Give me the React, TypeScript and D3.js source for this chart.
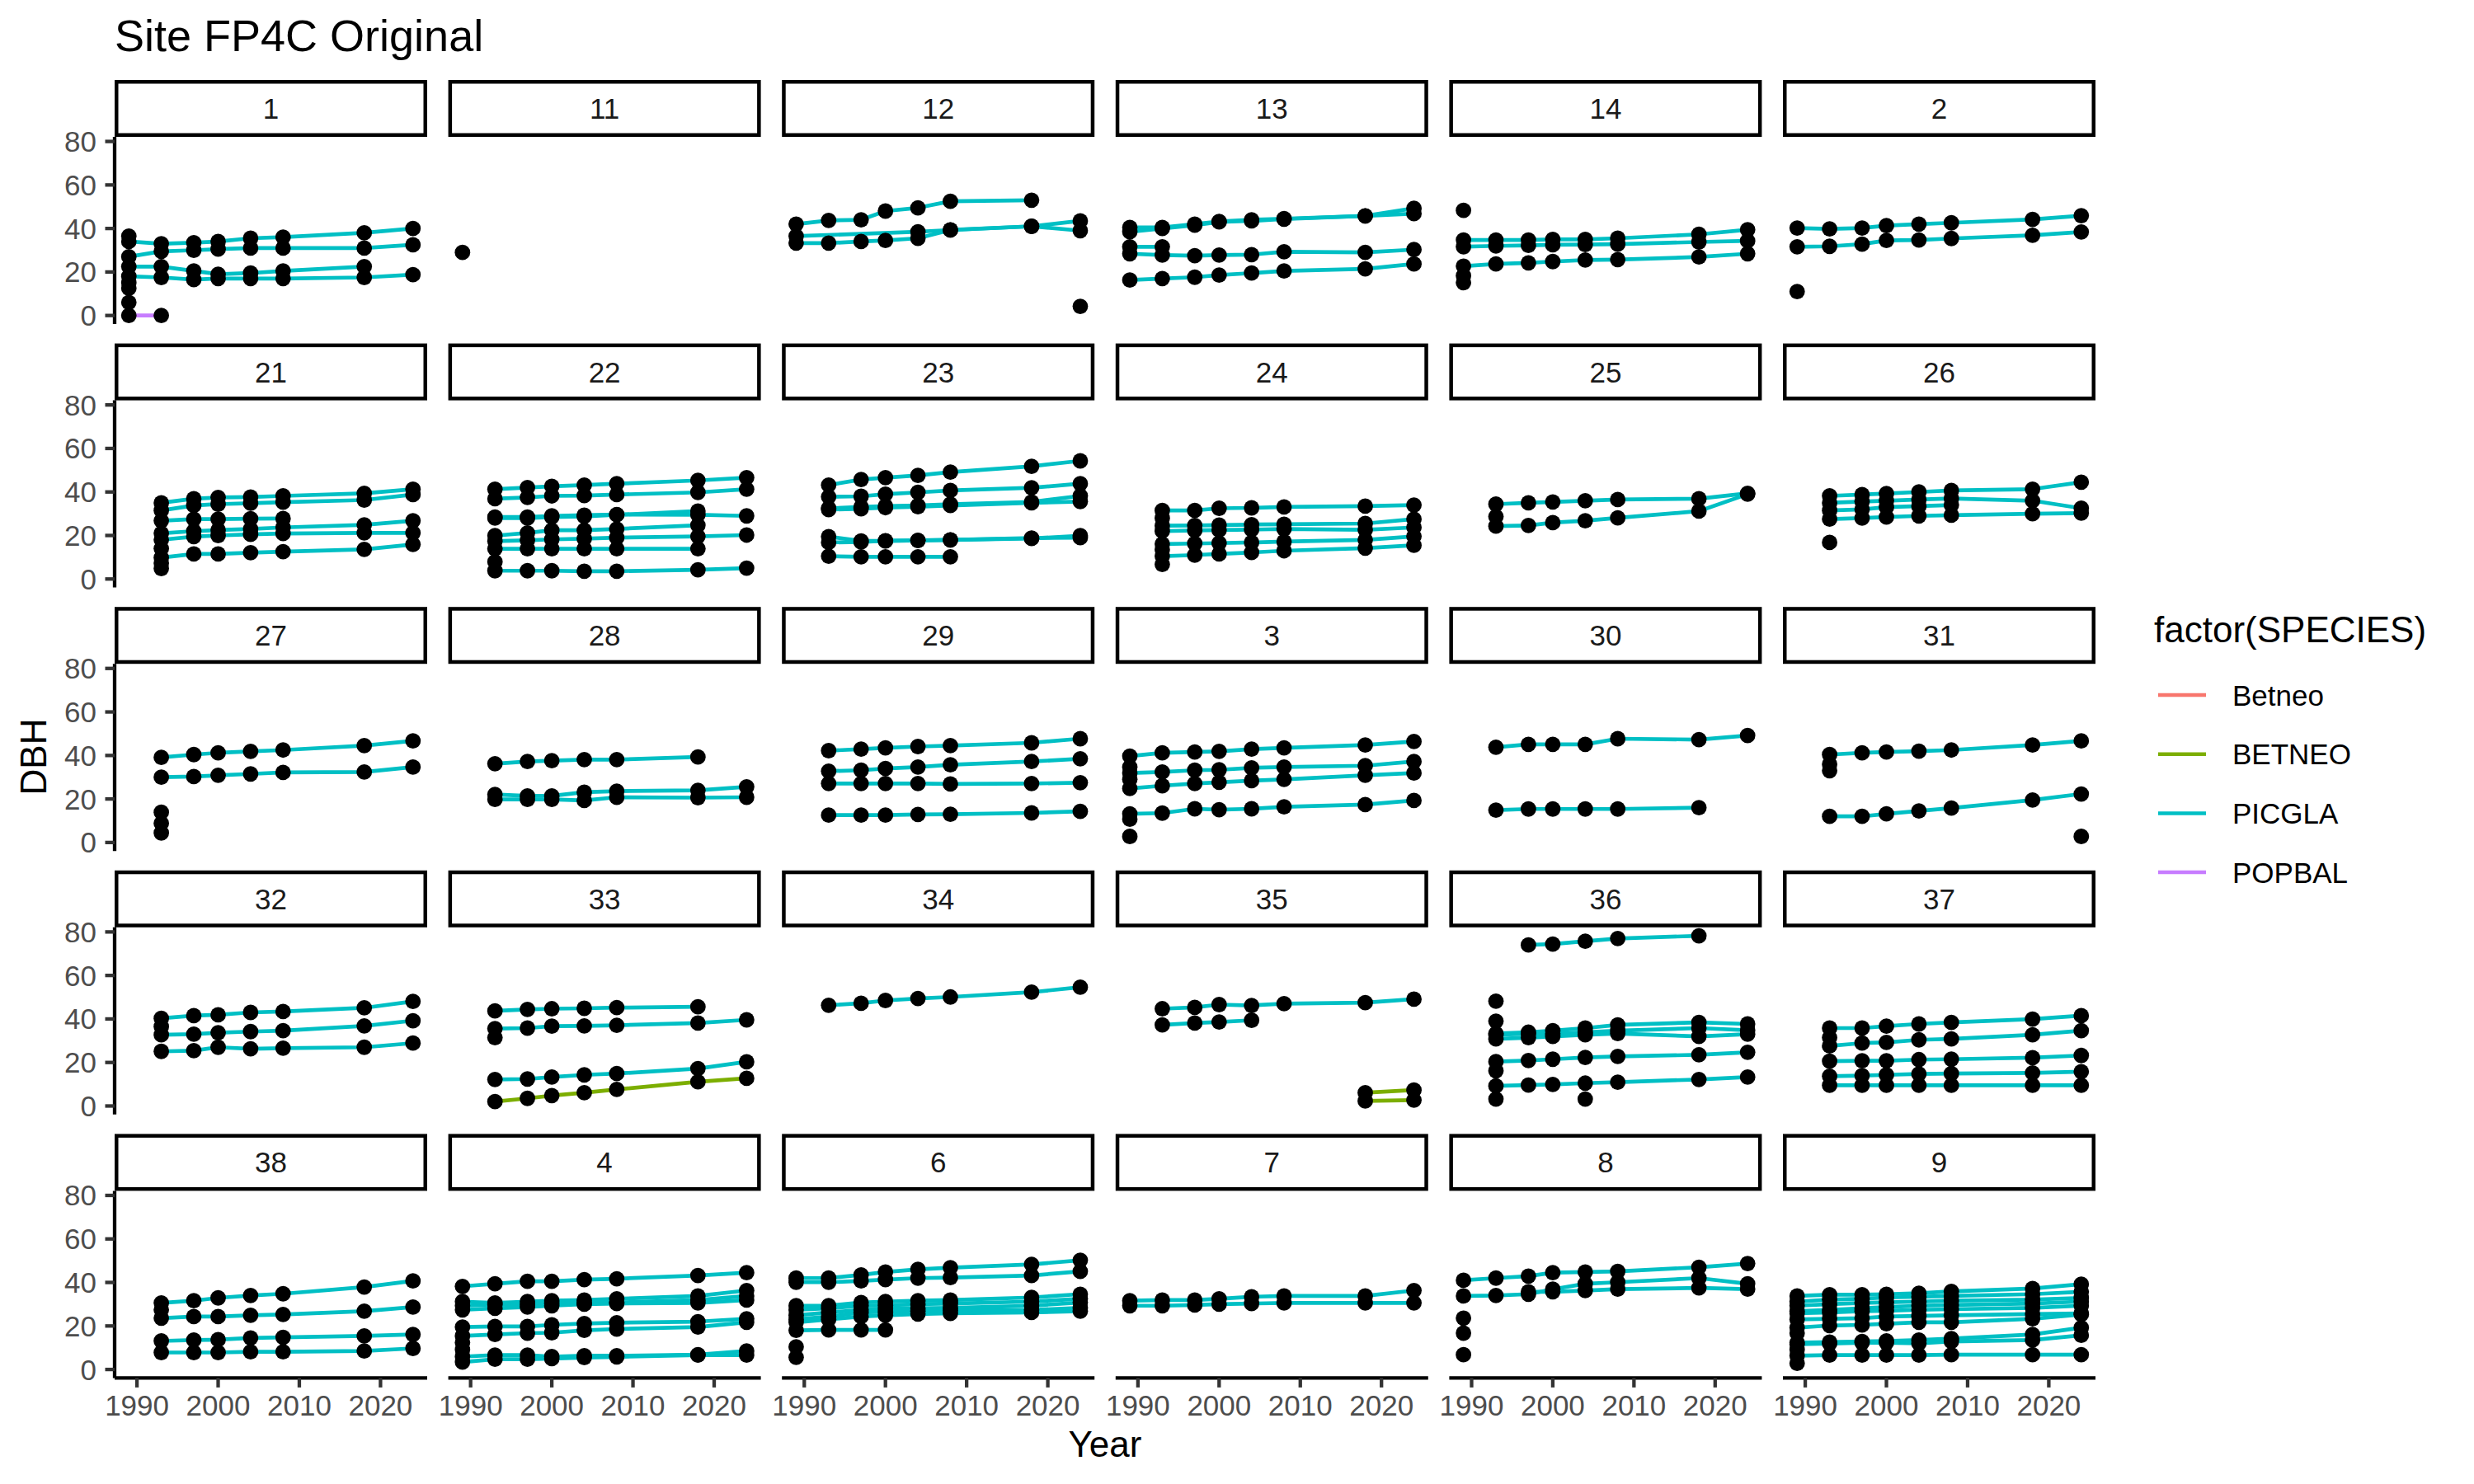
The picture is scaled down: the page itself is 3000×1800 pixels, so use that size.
import * as d3 from "d3";

// DBH per tree, one column per measurement year; null = not measured
const _ = null;
type Row = (string | number | null)[];

const years = [1989, 1993, 1997, 2000, 2004, 2008, 2018, 2024];

const plot1: Row[] = [
  ["PICGLA", 34, 33, 33.5, 34, 35.5, 36, 38, 40],
  ["PICGLA", 27, 29.5, 30, 30.5, 31, 31, 31, 32.5],
  ["PICGLA", 22.5, 22.5, 20.5, 19, 19.5, 20.5, 22.5, _],
  ["PICGLA", 18, 17.5, 16.5, 17, 17, 17, 17.5, 18.8],
  ["PICGLA", 36.5, _, _, _, _, _, _, _],
  ["PICGLA", 15, _, _, _, _, _, _, _],
  ["PICGLA", 12.5, _, _, _, _, _, _, _],
  ["PICGLA", 6, _, _, _, _, _, _, _],
  ["POPBAL", 0, 0, _, _, _, _, _, _],
];
const plot11: Row[] = [["PICGLA", 29, _, _, _, _, _, _, _]];
const plot12: Row[] = [
  ["PICGLA", 42, 43.7, 44, 48, 49.5, 52.5, 53, _],
  ["PICGLA", 36.5, _, _, _, 38.5, 39.3, 41, 43.5],
  ["PICGLA", 33.3, 33.3, 34, 34.5, 35.5, 39.3, 41, 39],
  ["PICGLA", _, _, _, _, _, _, _, 4.2],
];
const plot13: Row[] = [
  ["PICGLA", 40.5, 40.5, 42, 43.2, 44, 44.5, 45.8, 49.3],
  ["PICGLA", 38.5, 40, 41.5, 43, 43.5, 44.3, 45.8, 46.8],
  ["PICGLA", 31.6, 31.6, _, _, _, _, _, _],
  ["PICGLA", 28.4, 27.8, 27.5, 27.8, 28, 29.3, 29, 30.3],
  ["PICGLA", 16.3, 17, 17.6, 18.6, 19.5, 20.5, 21.4, 23.7],
];
const plot14: Row[] = [
  ["PICGLA", 48.3, _, _, _, _, _, _, _],
  ["PICGLA", 34.7, 34.7, 34.7, 35, 35, 35.5, 37.3, 39.4],
  ["PICGLA", 31.6, 32, 32.2, 32.5, 32.6, 32.8, 33.8, 34.3],
  ["PICGLA", 22.7, 23.7, 24.2, 24.8, 25.5, 25.7, 26.9, 28.4],
  ["PICGLA", 18.3, _, _, _, _, _, _, _],
  ["PICGLA", 15.1, _, _, _, _, _, _, _],
];
const plot2: Row[] = [
  ["PICGLA", 40.2, 39.8, 40.2, 41.3, 42, 42.6, 44.2, 45.9],
  ["PICGLA", 31.6, 31.8, 32.8, 34.5, 34.7, 35.4, 36.9, 38.4],
  ["PICGLA", 11, _, _, _, _, _, _, _],
];
const plot21: Row[] = [
  ["PICGLA", _, 35, 36.9, 37.5, 37.7, 38.2, 39.4, 41.3],
  ["PICGLA", _, 31.5, 33.8, 34.4, 34.8, 35.3, 36.3, 38.8],
  ["PICGLA", _, 26.8, 27.5, 27.5, 27.7, 27.8, _, _],
  ["PICGLA", _, 21, 22, 22.5, 23, 23.7, 24.9, 26.8],
  ["PICGLA", _, 18, 19.5, 20, 20.5, 20.9, 21.2, 21.2],
  ["PICGLA", _, 9.8, 11.5, 11.5, 12.1, 12.6, 13.6, 15.9],
  ["PICGLA", _, 14, _, _, _, _, _, _],
  ["PICGLA", _, 7.3, _, _, _, _, _, _],
  ["PICGLA", _, 4.8, _, _, _, _, _, _],
];
const plot22: Row[] = [
  ["PICGLA", _, 41.3, 42, 42.6, 43.2, 43.8, 45.3, 46.6],
  ["PICGLA", _, 36.9, 37.5, 38.2, 38.3, 38.8, 39.8, 41.3],
  ["PICGLA", _, 28.5, 28.5, 29, 29.3, 29.6, 29.5, 29],
  ["PICGLA", _, 28, 28, 28.5, 28.8, 29.5, 31.2, _],
  ["PICGLA", _, 19.9, 21.2, 22.4, 22.4, 23, 24.7, _],
  ["PICGLA", _, 17.4, 17.8, 18.2, 18.5, 19, 19.6, 20.2],
  ["PICGLA", _, 13.9, 13.9, 13.9, 13.9, 13.9, 13.9, _],
  ["PICGLA", _, 3.8, 3.8, 3.8, 3.6, 3.6, 4.2, 5],
  ["PICGLA", _, 7.9, _, _, _, _, _, _],
];
const plot23: Row[] = [
  ["PICGLA", _, 43.2, 45.7, 46.6, 47.6, 49.1, 51.8, 54.3],
  ["PICGLA", _, 37.8, 38, 39, 39.8, 40.7, 41.9, 43.8],
  ["PICGLA", _, 32.5, 33.1, 33.5, 33.8, 34.4, 35.4, 38.2],
  ["PICGLA", _, 31.9, 32.3, 32.8, 33.2, 33.8, 35, 35.6],
  ["PICGLA", _, 16.8, 17, 17.6, 17.7, 18, 18.6, 19.9],
  ["PICGLA", _, 19.5, 17.5, 17.5, 17.8, 18, 18.8, 19],
  ["PICGLA", _, 10.5, 10.2, 10.2, 10.2, 10.2, _, _],
];
const plot24: Row[] = [
  ["PICGLA", _, 31.5, 31.5, 32.5, 32.7, 33.1, 33.5, 34],
  ["PICGLA", _, 24.5, 24.6, 24.8, 25, 25.2, 25.5, 27.5],
  ["PICGLA", _, 22, 22.3, 22.5, 22.7, 23, 22.6, 23.7],
  ["PICGLA", _, 16.1, 16.3, 16.5, 16.8, 17.2, 18, 19.6],
  ["PICGLA", _, 10.5, 11, 11.5, 12.2, 13, 14.2, 15.5],
  ["PICGLA", _, 28, _, _, _, _, _, _],
  ["PICGLA", _, 13.5, _, _, _, _, _, _],
  ["PICGLA", _, 6.7, _, _, _, _, _, _],
];
const plot25: Row[] = [
  ["PICGLA", _, 34.4, 35, 35.4, 36, 36.5, 36.9, 39.4],
  ["PICGLA", _, 24.3, 24.6, 25.9, 26.8, 28.1, 31.2, 39],
  ["PICGLA", _, 28.7, _, _, _, _, _, _],
];
const plot26: Row[] = [
  ["PICGLA", _, 38.2, 38.8, 39.3, 40, 40.7, 41.3, 44.5],
  ["PICGLA", _, 35, 35.6, 36, 36.5, 37, 36, 32.5],
  ["PICGLA", _, 31.5, 32, 33, 33.5, 34, _, _],
  ["PICGLA", _, 27.5, 28, 28.5, 29, 29.3, 30, 30.3],
  ["PICGLA", _, 16.8, _, _, _, _, _, _],
];
const plot27: Row[] = [
  ["PICGLA", _, 39.1, 40.4, 41.2, 41.9, 42.5, 44.5, 46.7],
  ["PICGLA", _, 30, 30.3, 30.9, 31.5, 32.2, 32.4, 34.7],
  ["PICGLA", _, 13.9, _, _, _, _, _, _],
  ["PICGLA", _, 8.8, _, _, _, _, _, _],
  ["PICGLA", _, 4.4, _, _, _, _, _, _],
];
const plot28: Row[] = [
  ["PICGLA", _, 36.2, 37.2, 37.6, 38.1, 38.1, 39.3, _],
  ["PICGLA", _, 22.1, 21.4, 21.4, 23.1, 23.6, 24, 25.6],
  ["PICGLA", _, 19.8, 19.8, 19.8, 19.3, 20.8, 20.6, 20.8],
];
const plot29: Row[] = [
  ["PICGLA", _, 42.2, 42.9, 43.5, 44.1, 44.5, 45.8, 47.7],
  ["PICGLA", _, 32.8, 33.2, 34, 34.7, 35.7, 37.2, 38.5],
  ["PICGLA", _, 27.1, 27.1, 27.1, 27.1, 26.9, 27.1, 27.5],
  ["PICGLA", _, 12.6, 12.6, 12.6, 12.9, 13, 13.6, 14.3],
];
const plot3: Row[] = [
  ["PICGLA", 39.7, 41.2, 41.6, 41.9, 42.9, 43.5, 44.8, 46.4],
  ["PICGLA", 31.9, 32.4, 33.2, 33.4, 34.3, 34.7, 35.3, 37.2],
  ["PICGLA", 24.8, 26.1, 27.1, 27.7, 28.4, 29, 30.9, 31.9],
  ["PICGLA", 13.2, 13.5, 15.5, 15.1, 15.5, 16.4, 17.4, 19.3],
  ["PICGLA", 34.7, _, _, _, _, _, _, _],
  ["PICGLA", 29, _, _, _, _, _, _, _],
  ["PICGLA", 10.7, _, _, _, _, _, _, _],
  ["PICGLA", 2.8, _, _, _, _, _, _, _],
];
const plot30: Row[] = [
  ["PICGLA", _, 43.8, 45.1, 45.1, 45.1, 47.7, 47.3, 49.2],
  ["PICGLA", _, 14.9, 15.4, 15.4, 15.4, 15.4, 16, _],
];
const plot31: Row[] = [
  ["PICGLA", _, 40.4, 41.2, 41.6, 42, 42.5, 44.8, 46.7],
  ["PICGLA", _, 12, 12, 13.2, 14.5, 15.8, 19.5, 22.3],
  ["PICGLA", _, 36, _, _, _, _, _, _],
  ["PICGLA", _, 33, _, _, _, _, _, _],
  ["PICGLA", _, _, _, _, _, _, _, 2.8],
];
const plot32: Row[] = [
  ["PICGLA", _, 40.3, 41.5, 41.9, 43, 43.4, 45.1, 48.1],
  ["PICGLA", _, 32.7, 33, 33.7, 34.2, 34.6, 36.8, 39.2],
  ["PICGLA", _, 25.1, 25.4, 27, 26.3, 26.6, 27, 28.9],
  ["PICGLA", _, 36.5, _, _, _, _, _, _],
];
const plot33: Row[] = [
  ["PICGLA", _, 43.7, 44.4, 44.7, 44.9, 45.2, 45.6, _],
  ["PICGLA", _, 35.6, 35.8, 36.7, 36.8, 37.1, 38.1, 39.6],
  ["PICGLA", _, 31.4, _, _, _, _, _, _],
  ["PICGLA", _, 12.2, 12.4, 13.3, 14.3, 14.9, 17.2, 20.3],
  ["BETNEO", _, 2, 3.5, 4.8, 6.1, 7.6, 11.1, 12.7],
];
const plot34: Row[] = [
  ["PICGLA", _, 46.3, 47.2, 48.5, 49.4, 50.1, 52.3, 54.6],
];
const plot35: Row[] = [
  ["PICGLA", _, 44.7, 45.3, 46.6, 46.2, 47, 47.5, 49.1],
  ["PICGLA", _, 37.3, 38.1, 38.6, 39.4, _, _, _],
  ["BETNEO", _, _, _, _, _, _, 6.1, 7.3],
  ["BETNEO", _, _, _, _, _, _, 2.3, 2.7],
];
const plot36: Row[] = [
  ["PICGLA", _, _, 74, 74.4, 75.7, 77, 78.2, _],
  ["PICGLA", _, 48.2, _, _, _, _, _, _],
  ["PICGLA", _, 39, _, _, _, _, _, _],
  ["PICGLA", _, 33.3, 33.9, 34.6, 35.8, 37.3, 38.4, 37.7],
  ["PICGLA", _, 32.7, 33.2, 33.2, 33.9, 34.6, 35.8, 34.8],
  ["PICGLA", _, 30.8, 31.4, 32, 32.7, 33.3, 32, 33],
  ["PICGLA", _, 20.4, 20.9, 21.5, 22.3, 22.8, 23.5, 24.7],
  ["PICGLA", _, 16.2, _, _, _, _, _, _],
  ["PICGLA", _, 9.2, 9.6, 9.9, 10.5, 10.9, 12.2, 13.3],
  ["PICGLA", _, 3.2, _, _, _, _, _, _],
  ["PICGLA", _, _, _, _, 3.2, _, _, _],
];
const plot37: Row[] = [
  ["PICGLA", _, 35.8, 35.8, 36.7, 37.7, 38.4, 39.9, 41.5],
  ["PICGLA", _, 27.6, 28.9, 29.2, 30.4, 30.8, 32.7, 34.6],
  ["PICGLA", _, 31.4, _, _, _, _, _, _],
  ["PICGLA", _, 20.6, 20.8, 20.8, 21.3, 21.5, 22.2, 23.2],
  ["PICGLA", _, 13.7, 14, 14.3, 14.7, 14.9, 15.2, 15.8],
  ["PICGLA", _, 9.5, 9.5, 9.5, 9.5, 9.5, 9.5, 9.5],
];
const plot38: Row[] = [
  ["PICGLA", _, 30.6, 31.6, 32.9, 34, 34.8, 37.9, 40.7],
  ["PICGLA", _, 23.6, 24.3, 24.3, 24.9, 25.3, 26.8, 28.7],
  ["PICGLA", _, 27.4, _, _, _, _, _, _],
  ["PICGLA", _, 13.1, 13.5, 13.7, 14.5, 14.8, 15.4, 16.1],
  ["PICGLA", _, 7.8, 7.8, 7.8, 8.1, 8.1, 8.5, 9.7],
];
const plot4: Row[] = [
  ["PICGLA", 38.2, 39.4, 40.5, 40.5, 41.3, 41.7, 43.2, 44.5],
  ["PICGLA", 31.2, 30.6, 31.2, 31.6, 31.9, 32.5, 33.8, 36.3],
  ["PICGLA", 29.3, 29.8, 30, 30.3, 30.5, 30.8, 31.9, 33.8],
  ["PICGLA", 27.4, 28.1, 28.7, 29.3, 30, 30.3, 30.6, 31.9],
  ["PICGLA", 19.5, 19.8, 19.8, 20.5, 21.1, 21.5, 22, 23.3],
  ["PICGLA", 15.4, 16.1, 16.7, 16.9, 18, 18.6, 19.5, 21.7],
  ["PICGLA", 5.9, 6.6, 6.6, 5.9, 6.3, 6.3, 6.8, 8.5],
  ["PICGLA", 3.4, 4.7, 4.7, 5, 5.5, 5.8, 6.6, 6.6],
  ["PICGLA", 12.3, _, _, _, _, _, _, _],
  ["PICGLA", 9.1, _, _, _, _, _, _, _],
];
const plot6: Row[] = [
  ["PICGLA", 42, 42, 43.5, 44.8, 46, 46.8, 48.3, 50.2],
  ["PICGLA", 40.1, 40.1, 40.7, 41.3, 42, 42.2, 43.2, 45.1],
  ["PICGLA", 29.3, 29.3, 30.8, 31.2, 31.6, 31.9, 33.1, 34.6],
  ["PICGLA", 27.4, 28.1, 29.3, 29.5, 30, 30.3, 31.2, 32.5],
  ["PICGLA", 24.9, 26.2, 27.4, 28.1, 28.1, 28.3, 29.3, 30.8],
  ["PICGLA", 23, 24.3, 26.2, 26.5, 26.8, 27.1, 27.4, 28.3],
  ["PICGLA", 21.7, 23, 24.3, 24.9, 25.5, 25.8, 26.2, 26.8],
  ["PICGLA", 18, 18.2, 18.2, 18.2, _, _, _, _],
  ["PICGLA", 10.4, _, _, _, _, _, _, _],
  ["PICGLA", 5.6, _, _, _, _, _, _, _],
];
const plot7: Row[] = [
  ["PICGLA", 31.6, 31.9, 31.9, 32.5, 33.4, 33.8, 33.8, 36.3],
  ["PICGLA", 29.3, 29.3, 29.6, 30, 30.3, 30.6, 30.6, 30.6],
];
const plot8: Row[] = [
  ["PICGLA", 41, 42, 42.9, 44.5, 44.8, 45.1, 47, 48.7],
  ["PICGLA", 33.8, 34, 34.6, 36.9, 39.4, 40.1, 42, 39.4],
  ["PICGLA", _, _, 35.7, 35.7, 36.3, 36.9, 37.5, 36.9],
  ["PICGLA", 23.6, _, _, _, _, _, _, _],
  ["PICGLA", 16.7, _, _, _, _, _, _, _],
  ["PICGLA", 6.8, _, _, _, _, _, _, _],
];
const plot9: Row[] = [
  ["PICGLA", 33.8, 34.4, 34.4, 34.6, 35, 35.9, 37.2, 39.2],
  ["PICGLA", 31.2, 32.1, 32.5, 33.1, 33.4, 33.8, 34.6, 35.7],
  ["PICGLA", 29.3, 30, 30.6, 30.9, 31.2, 31.6, 32.1, 32.9],
  ["PICGLA", 26.8, 27.4, 28.1, 28.7, 29.3, 29.6, 30.3, 31.2],
  ["PICGLA", 25.8, 26.2, 26.8, 27, 27.4, 27.7, 28.3, 29.3],
  ["PICGLA", 23, 23.3, 23.6, 24.3, 24.6, 24.9, 25.5, 25.8],
  ["PICGLA", 19.2, 20.2, 20.5, 21, 21.7, 21.7, 23.3, 25.3],
  ["PICGLA", 12.3, 12.6, 12.9, 13.1, 13.5, 14.2, 16.1, 19.2],
  ["PICGLA", 11.6, 11.9, 12.3, 12.3, 12, 12.9, 13.5, 15.7],
  ["PICGLA", 6.3, 6.6, 6.6, 6.6, 6.6, 6.8, 6.8, 6.8],
  ["PICGLA", 16.7, _, _, _, _, _, _, _],
  ["PICGLA", 9.1, _, _, _, _, _, _, _],
  ["PICGLA", 2.8, _, _, _, _, _, _, _],
];

const panelIds = [
  "1", "11", "12", "13", "14", "2",
  "21", "22", "23", "24", "25", "26",
  "27", "28", "29", "3", "30", "31",
  "32", "33", "34", "35", "36", "37",
  "38", "4", "6", "7", "8", "9",
];
const panelTrees = [
  plot1, plot11, plot12, plot13, plot14, plot2,
  plot21, plot22, plot23, plot24, plot25, plot26,
  plot27, plot28, plot29, plot3, plot30, plot31,
  plot32, plot33, plot34, plot35, plot36, plot37,
  plot38, plot4, plot6, plot7, plot8, plot9,
];

const speciesNames = ["Betneo", "BETNEO", "PICGLA", "POPBAL"];
const speciesColors = ["#F8766D", "#7CAE00", "#00BFC4", "#C77CFF"];
const xTicks = [1990, 2000, 2010, 2020];
const yTicks = [0, 20, 40, 60, 80];

const FONT = "'Liberation Sans', Arial, Helvetica, sans-serif";

function toPoints(r: Row): [number, number][] {
  return years
    .map((yr, i) => [yr, r[i + 1]] as [number, number | null])
    .filter(d => d[1] !== null) as [number, number][];
}

export default function App() {
  const width = 3000;
  const height = 1800;
  const left = 139;
  const top = 97;
  const nCol = 6;
  const nRow = 5;
  const panelW = 379;
  const panelH = 227;
  const stripH = 69;
  const colStep = 404.6;
  const rowStep = 319.6;

  // ggplot-style 5% expansion of the data range
  const all = panelTrees.flat().flatMap(toPoints);
  const [x0, x1] = d3.extent(all, d => d[0]) as [number, number];
  const [y0, y1] = d3.extent(all, d => d[1]) as [number, number];
  const xPad = (x1 - x0) * 0.05;
  const yPad = (y1 - y0) * 0.05;

  const x = d3.scaleLinear().domain([x0 - xPad, x1 + xPad]).range([0, panelW]);
  const y = d3.scaleLinear().domain([y0 - yPad, y1 + yPad]).range([panelH, 0]);
  const color = d3.scaleOrdinal<string, string>().domain(speciesNames).range(speciesColors);
  const line = d3.line<[number, number]>().x(d => x(d[0])).y(d => y(d[1]));

  return (
    <svg
      width={width}
      height={height}
      style={{ position: "absolute", left: 0, top: 0, background: "#fff" }}
      fontFamily={FONT}
    >
      <rect width={width} height={height} fill="#fff" />
      <text x={left} y={62} fontSize={54} fill="#000">Site FP4C Original</text>

      {panelIds.map((id, p) => {
        const col = p % nCol;
        const row = Math.floor(p / nCol);
        const gx = left + col * colStep;
        const gy = top + row * rowStep;
        const trees = panelTrees[p].map(r => ({ sp: r[0] as string, pts: toPoints(r) }));
        return (
          <g key={id} transform={`translate(${gx},${gy})`}>
            <rect x={2.25} y={2.25} width={panelW - 4.5} height={stripH - 4.5}
              fill="#fff" stroke="#000" strokeWidth={4.5} />
            <text x={panelW / 2} y={stripH / 2} textAnchor="middle" dominantBaseline="central"
              fontSize={35} fill="#1A1A1A">{id}</text>
            <g transform={`translate(0,${stripH})`}>
              {trees.filter(t => t.pts.length > 1).map((t, i) => (
                <path key={`l${i}`} d={line(t.pts) || ""} fill="none" stroke={color(t.sp)}
                  strokeWidth={4.7} strokeLinejoin="round" />
              ))}
              {trees.flatMap((t, i) => t.pts.map((d, j) => (
                <circle key={`c${i}-${j}`} cx={x(d[0])} cy={y(d[1])} r={9.4} fill="#000" />
              )))}
              {col === 0 && (
                <g>
                  <line x1={0} x2={0} y1={0} y2={panelH} stroke="#000" strokeWidth={4.3} />
                  {yTicks.map(v => (
                    <g key={v} transform={`translate(0,${y(v)})`}>
                      <line x1={-11.5} x2={0} stroke="#333" strokeWidth={4.3} />
                      <text x={-22} textAnchor="end" dominantBaseline="central" fontSize={35}
                        fill="#4D4D4D">{v}</text>
                    </g>
                  ))}
                </g>
              )}
              {row === nRow - 1 && (
                <g transform={`translate(0,${panelH})`}>
                  <line x1={0} x2={panelW} stroke="#000" strokeWidth={4.3} />
                  {xTicks.map(v => (
                    <g key={v} transform={`translate(${x(v)},0)`}>
                      <line y1={0} y2={11.5} stroke="#333" strokeWidth={4.3} />
                      <text y={46} textAnchor="middle" fontSize={35} fill="#4D4D4D">{v}</text>
                    </g>
                  ))}
                </g>
              )}
            </g>
          </g>
        );
      })}

      <text transform={`translate(56,918) rotate(-90)`} textAnchor="middle" fontSize={44} fill="#000">DBH</text>
      <text x={1340} y={1767} textAnchor="middle" fontSize={44} fill="#000">Year</text>

      <g>
        <text x={2612} y={779} fontSize={44} fill="#000">factor(SPECIES)</text>
        {speciesNames.map((s, i) => {
          const ky = 843 + i * 71.7;
          return (
            <g key={s}>
              <line x1={2617} x2={2675} y1={ky} y2={ky} stroke={color(s)} strokeWidth={4.5} />
              <text x={2707} y={ky} dominantBaseline="central" fontSize={35} fill="#000">{s}</text>
            </g>
          );
        })}
      </g>
    </svg>
  );
}
